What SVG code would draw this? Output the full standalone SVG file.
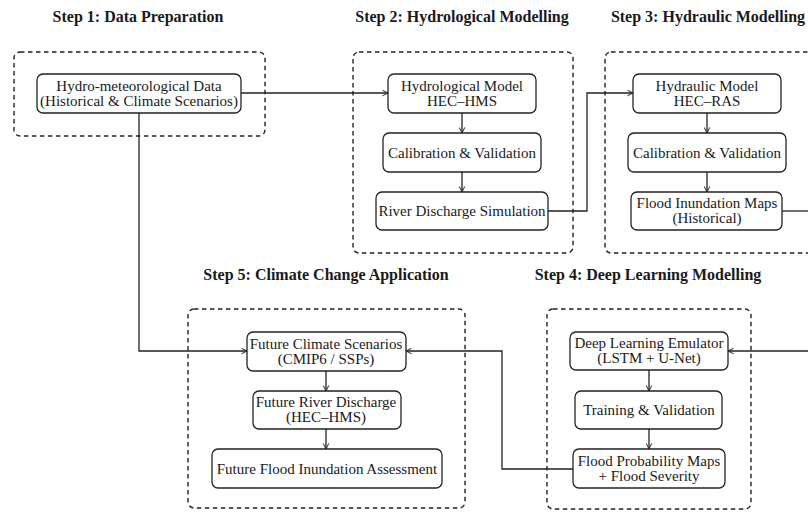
<svg xmlns="http://www.w3.org/2000/svg" width="808" height="514" viewBox="0 0 808 514">
<style>
.bg{fill:#ffffff}
.title{font-family:"Liberation Serif","DejaVu Serif",serif;font-weight:bold;font-size:16px;fill:#1a1a1a;text-anchor:middle}
.lbl{font-family:"Liberation Serif","DejaVu Serif",serif;font-size:15px;fill:#1a1a1a;text-anchor:middle}
.grp{fill:none;stroke:#222;stroke-width:1.4;stroke-dasharray:4.5,3.5}
.node rect{fill:#ffffff;stroke:#222;stroke-width:1.3}
.conn{fill:none;stroke:#222;stroke-width:1.3}
</style>
<defs>
<marker id="arr" viewBox="0 0 10 10" refX="9" refY="5" markerWidth="7" markerHeight="7" markerUnits="userSpaceOnUse" orient="auto">
<path d="M1,1 L9,5 L1,9" fill="none" stroke="#222" stroke-width="1.4"/>
</marker>
</defs>
<rect class="bg" x="0" y="0" width="808" height="514"/>

<g id="titles">
<text class="title" x="138" y="21.5">Step 1:  Data Preparation</text>
<text class="title" x="462" y="21.5">Step 2:  Hydrological Modelling</text>
<text class="title" x="708" y="21.5">Step 3:  Hydraulic Modelling</text>
<text class="title" x="648" y="279.5">Step 4:  Deep Learning Modelling</text>
<text class="title" x="326" y="279.5">Step 5:  Climate Change Application</text>
</g>

<g id="groups">
<rect class="grp" x="14" y="52" width="251" height="84" rx="6"/>
<rect class="grp" x="353" y="52" width="220" height="201" rx="6"/>
<rect class="grp" x="605" y="52" width="220" height="201" rx="6"/>
<rect class="grp" x="547" y="309" width="204" height="200" rx="6"/>
<rect class="grp" x="188" y="309" width="277" height="199" rx="6"/>
</g>

<g id="connectors">
<line class="conn" x1="241" y1="93" x2="388" y2="93" marker-end="url(#arr)"/>
<line class="conn" x1="462" y1="113" x2="462" y2="133" marker-end="url(#arr)"/>
<line class="conn" x1="462" y1="172" x2="462" y2="192" marker-end="url(#arr)"/>
<polyline class="conn" points="548,211 587,211 587,93 633,93" marker-end="url(#arr)"/>
<line class="conn" x1="707" y1="113" x2="707" y2="133" marker-end="url(#arr)"/>
<line class="conn" x1="707" y1="172" x2="707" y2="192" marker-end="url(#arr)"/>
<line class="conn" x1="782" y1="211" x2="812" y2="211"/>
<line class="conn" x1="812" y1="351" x2="728" y2="351" marker-end="url(#arr)"/>
<line class="conn" x1="649" y1="370" x2="649" y2="391" marker-end="url(#arr)"/>
<line class="conn" x1="649" y1="429" x2="649" y2="449" marker-end="url(#arr)"/>
<polyline class="conn" points="573,469 502,469 502,351 406,351" marker-end="url(#arr)"/>
<polyline class="conn" points="139,113 139,351 247,351" marker-end="url(#arr)"/>
<line class="conn" x1="326" y1="371" x2="326" y2="391" marker-end="url(#arr)"/>
<line class="conn" x1="326" y1="429" x2="326" y2="449" marker-end="url(#arr)"/>
</g>

<g id="n_data" class="node">
<rect x="37" y="74" width="204" height="39" rx="6"/>
<text class="lbl" x="139" y="90.5">Hydro-meteorological Data</text>
<text class="lbl" x="139" y="105.5">(Historical &amp; Climate Scenarios)</text>
</g>

<g id="n_hydro" class="node">
<rect x="388" y="74" width="148" height="39" rx="6"/>
<text class="lbl" x="462" y="90.5">Hydrological Model</text>
<text class="lbl" x="462" y="105.5">HEC–HMS</text>
</g>
<g id="n_cal1" class="node">
<rect x="383" y="133" width="158" height="39" rx="6"/>
<text class="lbl" x="462" y="157.5">Calibration &amp; Validation</text>
</g>
<g id="n_rds" class="node">
<rect x="376" y="192" width="172" height="38" rx="6"/>
<text class="lbl" x="462" y="216">River Discharge Simulation</text>
</g>

<g id="n_hydraulic" class="node">
<rect x="633" y="74" width="148" height="39" rx="6"/>
<text class="lbl" x="707" y="90.5">Hydraulic Model</text>
<text class="lbl" x="707" y="105.5">HEC–RAS</text>
</g>
<g id="n_cal2" class="node">
<rect x="628" y="133" width="158" height="39" rx="6"/>
<text class="lbl" x="707" y="157.5">Calibration &amp; Validation</text>
</g>
<g id="n_fim" class="node">
<rect x="631" y="192" width="151" height="38" rx="6"/>
<text class="lbl" x="707" y="208">Flood Inundation Maps</text>
<text class="lbl" x="707" y="223">(Historical)</text>
</g>

<g id="n_dle" class="node">
<rect x="570" y="332" width="158" height="38" rx="6"/>
<text class="lbl" x="649" y="348">Deep Learning Emulator</text>
<text class="lbl" x="649" y="363">(LSTM + U-Net)</text>
</g>
<g id="n_train" class="node">
<rect x="575" y="391" width="147" height="38" rx="6"/>
<text class="lbl" x="649" y="415">Training &amp; Validation</text>
</g>
<g id="n_fpm" class="node">
<rect x="573" y="449" width="152" height="39" rx="6"/>
<text class="lbl" x="649" y="465.5">Flood Probability Maps</text>
<text class="lbl" x="649" y="480.5">+ Flood Severity</text>
</g>

<g id="n_fcs" class="node">
<rect x="247" y="332" width="159" height="39" rx="6"/>
<text class="lbl" x="326" y="348.5">Future Climate Scenarios</text>
<text class="lbl" x="326" y="363.5">(CMIP6 / SSPs)</text>
</g>
<g id="n_frd" class="node">
<rect x="253" y="391" width="148" height="38" rx="6"/>
<text class="lbl" x="326" y="407">Future River Discharge</text>
<text class="lbl" x="326" y="422">(HEC–HMS)</text>
</g>
<g id="n_ffia" class="node">
<rect x="212" y="449" width="230" height="39" rx="6"/>
<text class="lbl" x="327" y="473.5">Future Flood Inundation Assessment</text>
</g>
</svg>
